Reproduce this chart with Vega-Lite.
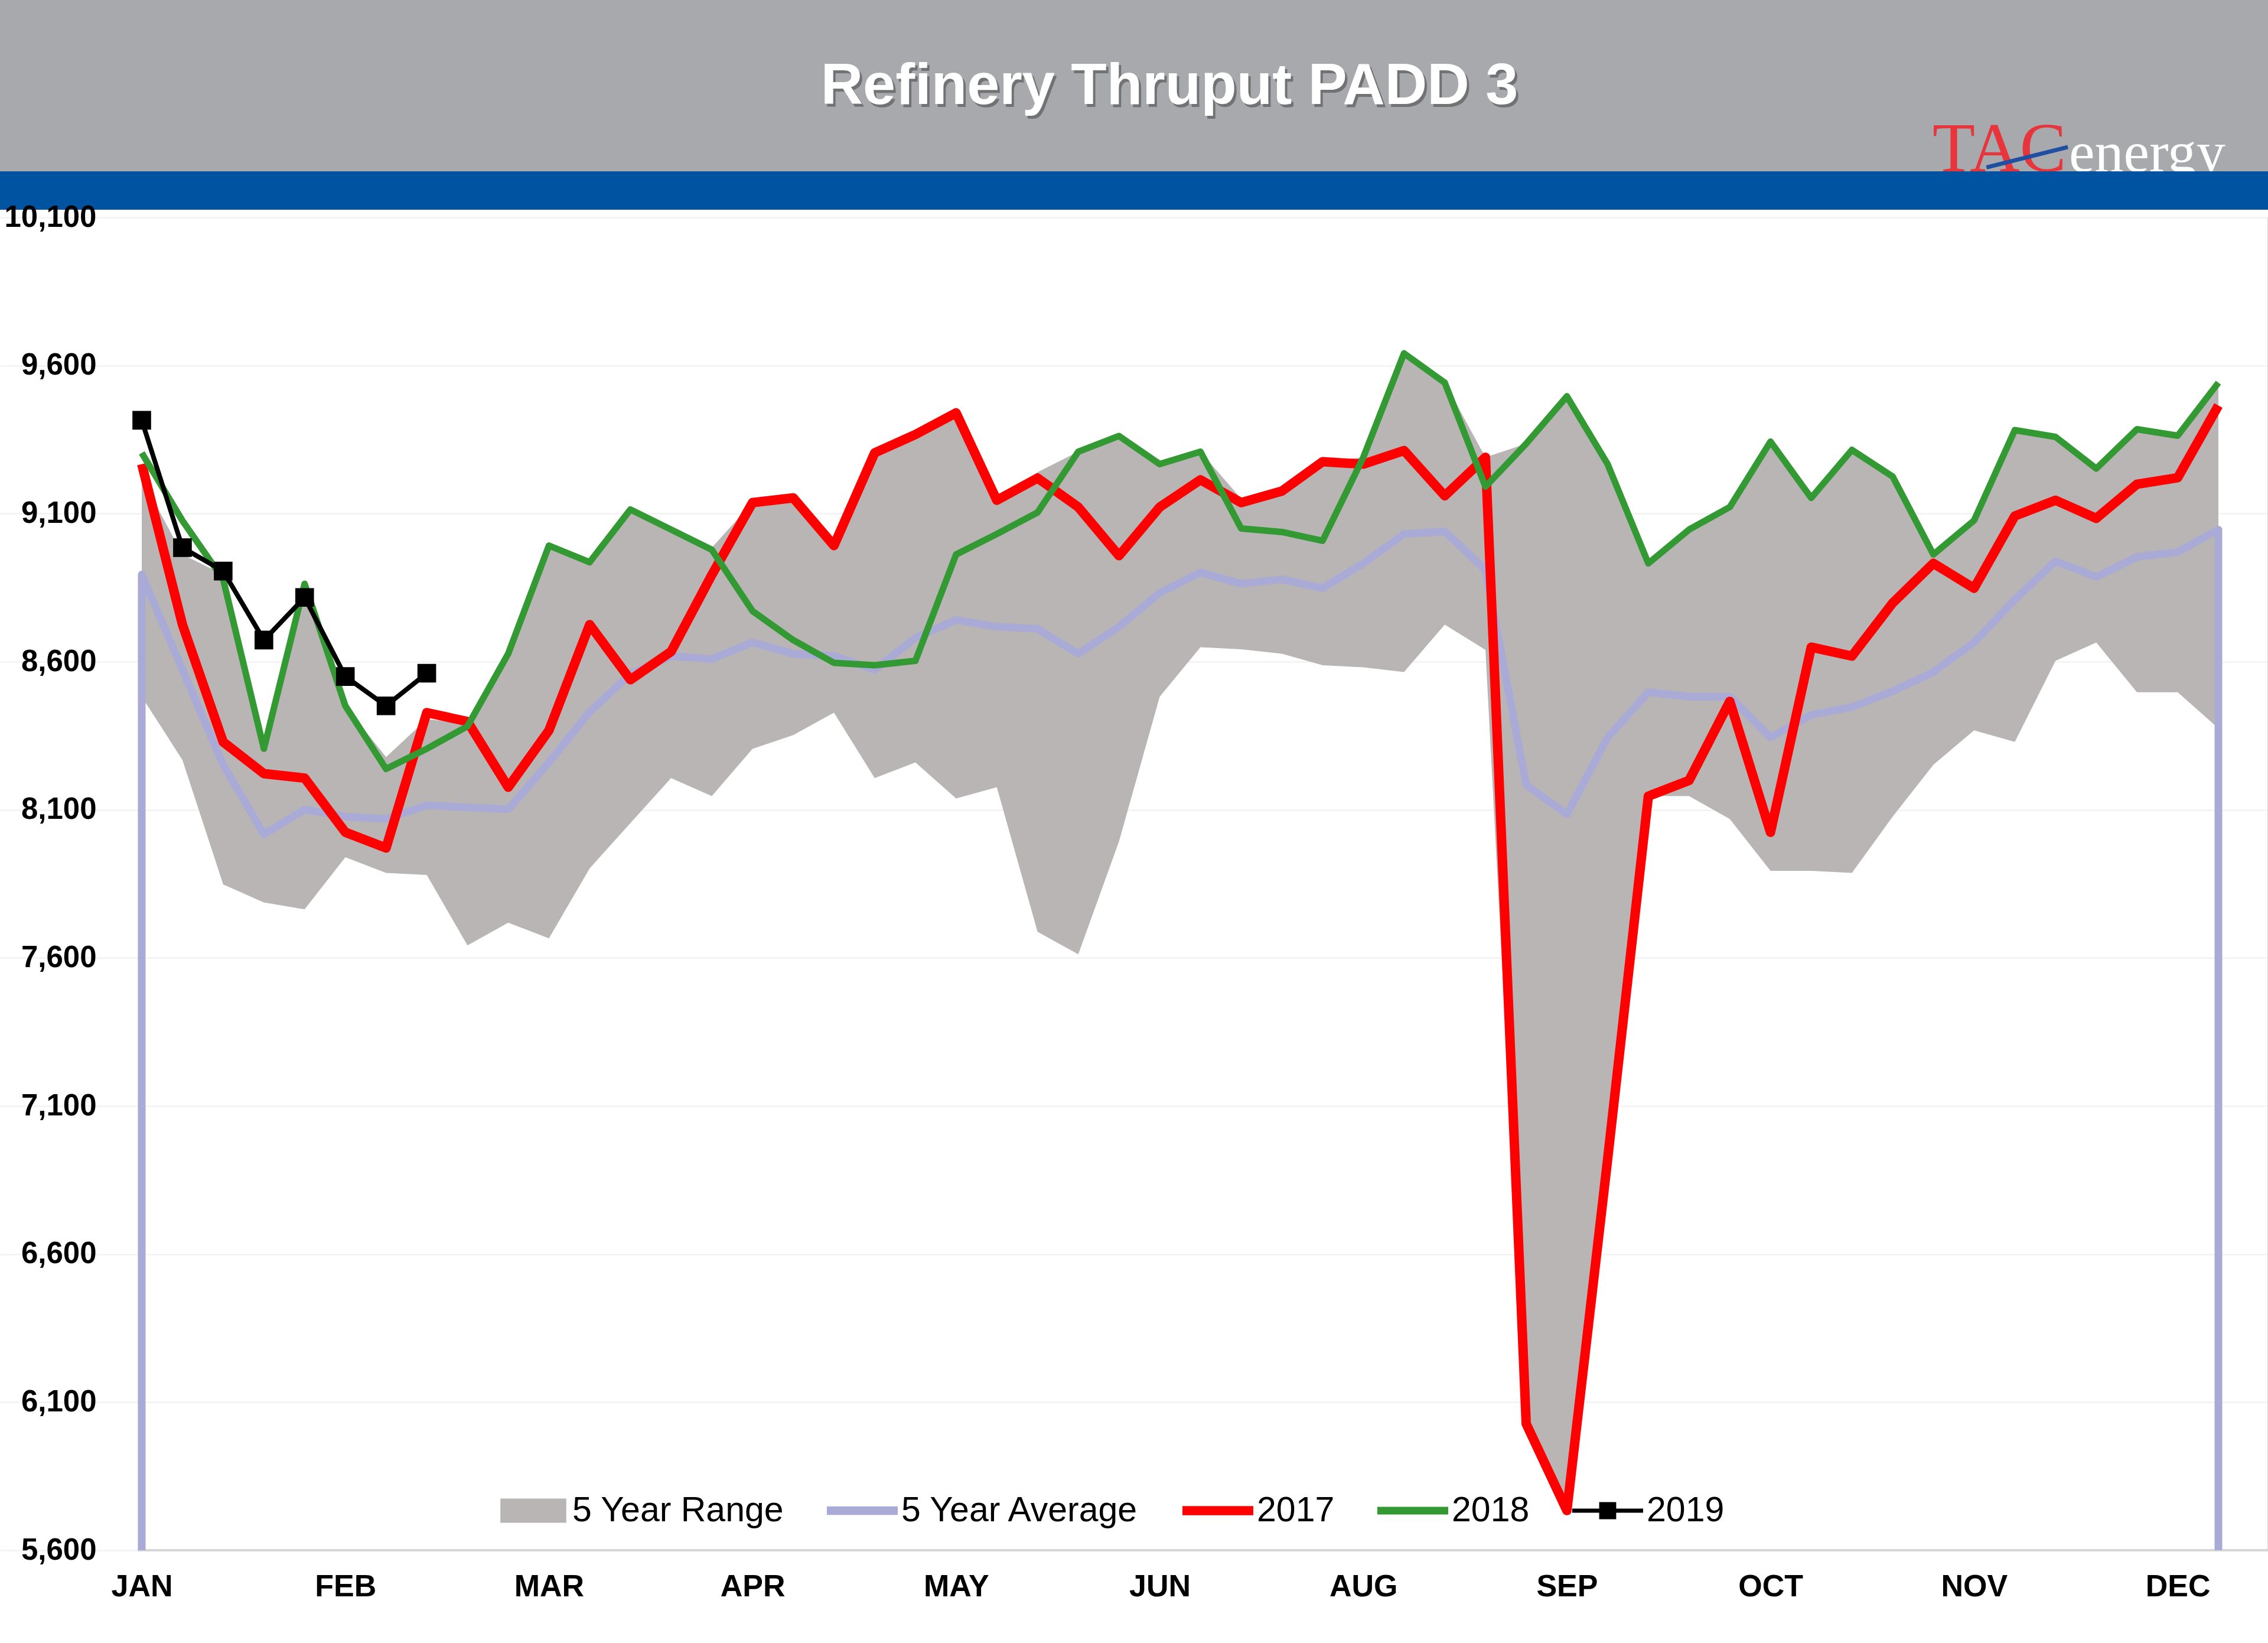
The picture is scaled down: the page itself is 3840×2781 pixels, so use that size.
{
  "$schema": "https://vega.github.io/schema/vega-lite/v6.json",
  "padding": 0,
  "background": "white",
  "spacing": -13,
  "config": {"view": {"stroke": null}},
  "datasets": {
    "range": [
      {"week":1,"lower":8482,"upper":9220},{"week":2,"lower":8268,"upper":8962},{"week":3,"lower":7848,"upper":8894},{"week":4,"lower":7787,"upper":8306},
      {"week":5,"lower":7764,"upper":8855},{"week":6,"lower":7940,"upper":8451},{"week":7,"lower":7887,"upper":8278},{"week":8,"lower":7880,"upper":8406},
      {"week":9,"lower":7642,"upper":8390},{"week":10,"lower":7719,"upper":8627},{"week":11,"lower":7666,"upper":8992},{"week":12,"lower":7902,"upper":8935},
      {"week":13,"lower":8055,"upper":9114},{"week":14,"lower":8207,"upper":9040},{"week":15,"lower":8146,"upper":8985},{"week":16,"lower":8306,"upper":9137},
      {"week":17,"lower":8352,"upper":9153},{"week":18,"lower":8428,"upper":8980},{"week":19,"lower":8207,"upper":9300},{"week":20,"lower":8260,"upper":9360},
      {"week":21,"lower":8138,"upper":9435},{"week":22,"lower":8176,"upper":9140},{"week":23,"lower":7688,"upper":9240},{"week":24,"lower":7612,"upper":9309},
      {"week":25,"lower":7993,"upper":9362},{"week":26,"lower":8482,"upper":9267},{"week":27,"lower":8649,"upper":9309},{"week":28,"lower":8642,"upper":9150},
      {"week":29,"lower":8627,"upper":9176},{"week":30,"lower":8588,"upper":9275},{"week":31,"lower":8581,"upper":9290},{"week":32,"lower":8565,"upper":9641},
      {"week":33,"lower":8725,"upper":9542},{"week":34,"lower":8640,"upper":9290},{"week":35,"lower":6027,"upper":9336},{"week":36,"lower":5734,"upper":9496},
      {"week":37,"lower":6920,"upper":9267},{"week":38,"lower":8146,"upper":8932},{"week":39,"lower":8146,"upper":9046},{"week":40,"lower":8069,"upper":9122},
      {"week":41,"lower":7894,"upper":9343},{"week":42,"lower":7894,"upper":9153},{"week":43,"lower":7887,"upper":9315},{"week":44,"lower":8077,"upper":9225},
      {"week":45,"lower":8252,"upper":8962},{"week":46,"lower":8368,"upper":9077},{"week":47,"lower":8329,"upper":9382},{"week":48,"lower":8603,"upper":9359},
      {"week":49,"lower":8665,"upper":9252},{"week":50,"lower":8497,"upper":9385},{"week":51,"lower":8497,"upper":9363},{"week":52,"lower":8375,"upper":9542}
    ],
    "avg": [
      {"seq":0,"week":1,"value":5600},
      {"seq":1,"week":1,"value":8894},{"seq":2,"week":2,"value":8573},{"seq":3,"week":3,"value":8252},{"seq":4,"week":4,"value":8017},
      {"seq":5,"week":5,"value":8101},{"seq":6,"week":6,"value":8077},{"seq":7,"week":7,"value":8069},{"seq":8,"week":8,"value":8115},
      {"seq":9,"week":9,"value":8108},{"seq":10,"week":10,"value":8102},{"seq":11,"week":11,"value":8260},{"seq":12,"week":12,"value":8430},
      {"seq":13,"week":13,"value":8558},{"seq":14,"week":14,"value":8619},{"seq":15,"week":15,"value":8609},{"seq":16,"week":16,"value":8665},
      {"seq":17,"week":17,"value":8627},{"seq":18,"week":18,"value":8619},{"seq":19,"week":19,"value":8573},{"seq":20,"week":20,"value":8680},
      {"seq":21,"week":21,"value":8741},{"seq":22,"week":22,"value":8718},{"seq":23,"week":23,"value":8711},{"seq":24,"week":24,"value":8627},
      {"seq":25,"week":25,"value":8718},{"seq":26,"week":26,"value":8832},{"seq":27,"week":27,"value":8901},{"seq":28,"week":28,"value":8863},
      {"seq":29,"week":29,"value":8878},{"seq":30,"week":30,"value":8848},{"seq":31,"week":31,"value":8932},{"seq":32,"week":32,"value":9031},
      {"seq":33,"week":33,"value":9040},{"seq":34,"week":34,"value":8910},{"seq":35,"week":35,"value":8184},{"seq":36,"week":36,"value":8085},
      {"seq":37,"week":37,"value":8344},{"seq":38,"week":38,"value":8497},{"seq":39,"week":39,"value":8482},{"seq":40,"week":40,"value":8482},
      {"seq":41,"week":41,"value":8344},{"seq":42,"week":42,"value":8420},{"seq":43,"week":43,"value":8447},{"seq":44,"week":44,"value":8500},
      {"seq":45,"week":45,"value":8565},{"seq":46,"week":46,"value":8665},{"seq":47,"week":47,"value":8810},{"seq":48,"week":48,"value":8939},
      {"seq":49,"week":49,"value":8886},{"seq":50,"week":50,"value":8954},{"seq":51,"week":51,"value":8970},{"seq":52,"week":52,"value":9046},
      {"seq":53,"week":52,"value":5600}
    ],
    "years": [
      {"series":"2017","week":1,"value":9267},{"series":"2017","week":2,"value":8725},{"series":"2017","week":3,"value":8329},{"series":"2017","week":4,"value":8222},
      {"series":"2017","week":5,"value":8207},{"series":"2017","week":6,"value":8024},{"series":"2017","week":7,"value":7971},{"series":"2017","week":8,"value":8428},
      {"series":"2017","week":9,"value":8398},{"series":"2017","week":10,"value":8176},{"series":"2017","week":11,"value":8368},{"series":"2017","week":12,"value":8725},
      {"series":"2017","week":13,"value":8539},{"series":"2017","week":14,"value":8634},{"series":"2017","week":15,"value":8893},{"series":"2017","week":16,"value":9137},
      {"series":"2017","week":17,"value":9153},{"series":"2017","week":18,"value":8992},{"series":"2017","week":19,"value":9305},{"series":"2017","week":20,"value":9367},
      {"series":"2017","week":21,"value":9440},{"series":"2017","week":22,"value":9145},{"series":"2017","week":23,"value":9220},{"series":"2017","week":24,"value":9122},
      {"series":"2017","week":25,"value":8958},{"series":"2017","week":26,"value":9122},{"series":"2017","week":27,"value":9214},{"series":"2017","week":28,"value":9137},
      {"series":"2017","week":29,"value":9176},{"series":"2017","week":30,"value":9275},{"series":"2017","week":31,"value":9267},{"series":"2017","week":32,"value":9313},
      {"series":"2017","week":33,"value":9160},{"series":"2017","week":34,"value":9290},{"series":"2017","week":35,"value":6027},{"series":"2017","week":36,"value":5734},
      {"series":"2017","week":37,"value":6920},{"series":"2017","week":38,"value":8146},{"series":"2017","week":39,"value":8199},{"series":"2017","week":40,"value":8466},
      {"series":"2017","week":41,"value":8024},{"series":"2017","week":42,"value":8649},{"series":"2017","week":43,"value":8619},{"series":"2017","week":44,"value":8798},
      {"series":"2017","week":45,"value":8932},{"series":"2017","week":46,"value":8848},{"series":"2017","week":47,"value":9092},{"series":"2017","week":48,"value":9145},
      {"series":"2017","week":49,"value":9084},{"series":"2017","week":50,"value":9199},{"series":"2017","week":51,"value":9221},{"series":"2017","week":52,"value":9465},
      {"series":"2018","week":1,"value":9305},{"series":"2018","week":2,"value":9076},{"series":"2018","week":3,"value":8878},{"series":"2018","week":4,"value":8306},
      {"series":"2018","week":5,"value":8863},{"series":"2018","week":6,"value":8451},{"series":"2018","week":7,"value":8238},{"series":"2018","week":8,"value":8306},
      {"series":"2018","week":9,"value":8382},{"series":"2018","week":10,"value":8627},{"series":"2018","week":11,"value":8992},{"series":"2018","week":12,"value":8936},
      {"series":"2018","week":13,"value":9114},{"series":"2018","week":14,"value":9046},{"series":"2018","week":15,"value":8978},{"series":"2018","week":16,"value":8771},
      {"series":"2018","week":17,"value":8673},{"series":"2018","week":18,"value":8596},{"series":"2018","week":19,"value":8588},{"series":"2018","week":20,"value":8603},
      {"series":"2018","week":21,"value":8962},{"series":"2018","week":22,"value":9031},{"series":"2018","week":23,"value":9104},{"series":"2018","week":24,"value":9309},
      {"series":"2018","week":25,"value":9362},{"series":"2018","week":26,"value":9267},{"series":"2018","week":27,"value":9309},{"series":"2018","week":28,"value":9050},
      {"series":"2018","week":29,"value":9038},{"series":"2018","week":30,"value":9008},{"series":"2018","week":31,"value":9290},{"series":"2018","week":32,"value":9641},
      {"series":"2018","week":33,"value":9542},{"series":"2018","week":34,"value":9191},{"series":"2018","week":35,"value":9336},{"series":"2018","week":36,"value":9496},
      {"series":"2018","week":37,"value":9267},{"series":"2018","week":38,"value":8932},{"series":"2018","week":39,"value":9046},{"series":"2018","week":40,"value":9122},
      {"series":"2018","week":41,"value":9343},{"series":"2018","week":42,"value":9153},{"series":"2018","week":43,"value":9315},{"series":"2018","week":44,"value":9225},
      {"series":"2018","week":45,"value":8962},{"series":"2018","week":46,"value":9077},{"series":"2018","week":47,"value":9382},{"series":"2018","week":48,"value":9359},
      {"series":"2018","week":49,"value":9252},{"series":"2018","week":50,"value":9385},{"series":"2018","week":51,"value":9363},{"series":"2018","week":52,"value":9542}
    ],
    "y2019": [
      {"week":1,"value":9415},{"week":2,"value":8985},{"week":3,"value":8906},{"week":4,"value":8673},
      {"week":5,"value":8817},{"week":6,"value":8550},{"week":7,"value":8451},{"week":8,"value":8561}
    ]
  },
  "vconcat": [
    {
      "width": 3840,
      "height": 290,
      "view": {"fill": "#a7a9ac", "stroke": null},
      "data": {"values": [{"title": "Refinery Thruput PADD 3", "tac": "TAC", "energy": "energy", "slash": "—"}]},
      "layer": [
        {"mark": {"type": "text", "font": "Liberation Sans", "fontWeight": "bold", "fontSize": 99, "color": "#3c3c3c", "opacity": 0.5, "baseline": "middle", "dx": 64, "dy": 6},
         "encoding": {"text": {"field": "title"}}},
        {"mark": {"type": "text", "font": "Liberation Sans", "fontWeight": "bold", "fontSize": 99, "color": "#ffffff", "baseline": "middle", "dx": 60, "dy": 1},
         "encoding": {"text": {"field": "title"}}},
        {"mark": {"type": "text", "font": "Liberation Serif", "fontSize": 118, "color": "#e8343b", "align": "left", "baseline": "alphabetic", "dx": 1352, "dy": 145, "clip": true},
         "encoding": {"text": {"field": "tac"}}},
        {"mark": {"type": "text", "font": "Liberation Serif", "fontSize": 98, "color": "#ffffff", "align": "left", "baseline": "alphabetic", "dx": 1583, "dy": 145, "clip": true},
         "encoding": {"text": {"field": "energy"}}},
        {"mark": {"type": "text", "font": "Liberation Serif", "fontSize": 140, "color": "#1f4fa0", "align": "center", "baseline": "middle", "angle": -14, "dx": 1438, "dy": 474, "clip": true},
         "encoding": {"text": {"field": "slash"}}}
      ]
    },
    {
      "width": 3840,
      "height": 65,
      "view": {"fill": "#0053a1", "stroke": null},
      "mark": {"type": "rect", "opacity": 0},
      "data": {"values": [{}]},
      "encoding": {}
    },
    {
      "width": 3840,
      "height": 2256,
      "layer": [
        {
          "data": {"name": "range"},
          "mark": {"type": "area", "color": "#b9b5b5", "opacity": 1},
          "encoding": {
            "x": {"field": "week", "type": "quantitative",
                  "scale": {"domain": [-2.481, 53.218], "nice": false, "zero": false},
                  "axis": {"title": null, "values": [1,6,11,16,21,26,31,36,41,46,51],
                           "labelExpr": "['JAN','FEB','MAR','APR','MAY','JUN','AUG','SEP','OCT','NOV','DEC'][round((datum.value-1)/5)]",
                           "labelFont": "Liberation Sans", "labelFontWeight": "bold", "labelFontSize": 52, "labelColor": "#000000",
                           "labelPadding": 36, "ticks": false, "grid": false, "domain": false,
                           "labelOverlap": false, "labelFlush": false}},
            "y": {"field": "lower", "type": "quantitative",
                  "scale": {"domain": [5600, 10100], "nice": false, "zero": false},
                  "axis": {"title": null, "values": [5600,6100,6600,7100,7600,8100,8600,9100,9600,10100], "format": ",d",
                           "labelFont": "Liberation Sans", "labelFontWeight": "bold", "labelFontSize": 51, "labelColor": "#000000",
                           "labelPadding": -163, "labelAlign": "right", "ticks": false, "domain": false, "grid": true, "gridColor": "#f0f0f0", "gridWidth": 2}},
            "y2": {"field": "upper"},
            "color": {"datum": "5 Year Range", "type": "nominal",
                      "scale": {"domain": ["5 Year Range", "5 Year Average", "2017", "2018", "2019"],
                                "range": ["#b9b5b5", "#aaaad6", "#ff0000", "#339933", "#000000"]},
                      "legend": {"title": null, "orient": "none", "direction": "horizontal", "legendX": 843, "legendY": 2497,
                                 "padding": 0, "symbolSize": 14400, "symbolStrokeWidth": 0, "symbolOpacity": 1,
                                 "labelFont": "Liberation Sans", "labelFontSize": 59, "labelColor": "#000000", "labelOffset": 6, "labelLimit": 0,
                                 "columnPadding": 72}}
          }
        },
        {
          "data": {"name": "range"},
          "mark": {"type": "point", "opacity": 0, "filled": true},
          "encoding": {
            "x": {"field": "week", "type": "quantitative"},
            "y": {"field": "upper", "type": "quantitative"},
            "color": {"datum": "5 Year Range", "type": "nominal"},
            "shape": {"datum": "5 Year Range", "type": "nominal",
                      "scale": {"domain": ["5 Year Range", "5 Year Average", "2017", "2018", "2019"],
                                "range": ["M-0.93,-0.34H0.93V0.34H-0.93Z", "M-1,-0.12H1V0.12H-1Z", "M-1,-0.13H1V0.13H-1Z", "M-1,-0.11H1V0.11H-1Z", "M-1,-0.06H1V0.06H-1Z M-0.24,-0.24H0.24V0.24H-0.24Z"]},
                      "legend": {"title": null, "orient": "none", "direction": "horizontal", "legendX": 843, "legendY": 2497,
                                 "padding": 0, "symbolSize": 14400, "symbolStrokeWidth": 0, "symbolOpacity": 1,
                                 "labelFont": "Liberation Sans", "labelFontSize": 59, "labelColor": "#000000", "labelOffset": 6, "labelLimit": 0,
                                 "columnPadding": 72}}
          }
        },
        {
          "data": {"name": "range"},
          "mark": {"type": "rule", "color": "#d6d6d6", "strokeWidth": 4},
          "encoding": {
            "x": {"datum": 0.9, "type": "quantitative"},
            "x2": {"datum": 53.23},
            "y": {"datum": 5600, "type": "quantitative"}
          }
        },
        {
          "data": {"name": "range"},
          "mark": {"type": "rule", "color": "#d6d6d6", "strokeWidth": 3},
          "encoding": {
            "x": {"datum": 53.23, "type": "quantitative"},
            "y": {"datum": 5600, "type": "quantitative"},
            "y2": {"datum": 10100}
          }
        },
        {
          "data": {"name": "avg"},
          "mark": {"type": "line", "strokeWidth": 13, "strokeJoin": "round"},
          "encoding": {
            "x": {"field": "week", "type": "quantitative"},
            "y": {"field": "value", "type": "quantitative"},
            "order": {"field": "seq", "type": "quantitative"},
            "color": {"datum": "5 Year Average", "type": "nominal"}
          }
        },
        {
          "data": {"name": "years"},
          "transform": [{"filter": "datum.series === '2017'"}],
          "mark": {"type": "line", "strokeWidth": 16, "strokeJoin": "round"},
          "encoding": {
            "x": {"field": "week", "type": "quantitative"},
            "y": {"field": "value", "type": "quantitative"},
            "color": {"datum": "2017", "type": "nominal"}
          }
        },
        {
          "data": {"name": "years"},
          "transform": [{"filter": "datum.series === '2018'"}],
          "mark": {"type": "line", "strokeWidth": 11, "strokeJoin": "round"},
          "encoding": {
            "x": {"field": "week", "type": "quantitative"},
            "y": {"field": "value", "type": "quantitative"},
            "color": {"datum": "2018", "type": "nominal"}
          }
        },
        {
          "data": {"name": "y2019"},
          "mark": {"type": "line", "strokeWidth": 8, "strokeJoin": "round"},
          "encoding": {
            "x": {"field": "week", "type": "quantitative"},
            "y": {"field": "value", "type": "quantitative"},
            "color": {"datum": "2019", "type": "nominal"}
          }
        },
        {
          "data": {"name": "y2019"},
          "mark": {"type": "point", "shape": "square", "filled": true, "size": 1000, "opacity": 1},
          "encoding": {
            "x": {"field": "week", "type": "quantitative"},
            "y": {"field": "value", "type": "quantitative"},
            "color": {"datum": "2019", "type": "nominal"}
          }
        }
      ]
    }
  ]
}
